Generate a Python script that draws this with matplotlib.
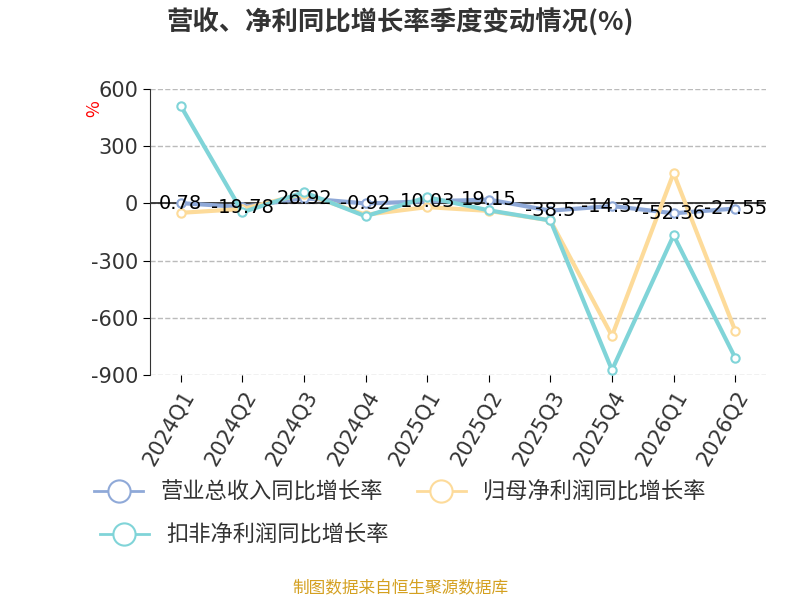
import matplotlib.pyplot as plt
from matplotlib.lines import Line2D

plt.rcParams['font.family'] = ['Noto Sans CJK SC', 'DejaVu Sans']

quarters = ['2024Q1', '2024Q2', '2024Q3', '2024Q4', '2025Q1', '2025Q2', '2025Q3', '2025Q4', '2026Q1', '2026Q2']
revenue = [0.78, -19.78, 26.92, -0.92, 10.03, 19.15, -38.5, -14.37, -52.36, -27.55]
net_profit = [-50, -30, 50, -60, -20, -40, -90, -695, 158, -668]
deducted = [510, -47, 58, -68, 32, -37, -90, -874, -168, -810]

c_rev = '#8fa9d8'
c_net = '#fddb9a'
c_ded = '#80d4d8'

fig = plt.figure(figsize=(8, 6), dpi=100)
ax = fig.add_axes([0.1875, 0.375, 0.77, 0.477])
x = list(range(len(quarters)))

for ys, c in [(revenue, c_rev), (net_profit, c_net), (deducted, c_ded)]:
    ax.plot(x, ys, color=c, lw=3, marker='o', ms=6, mfc='white', mec=c, mew=1.5, zorder=3)

for xi, v in zip(x, revenue):
    ax.text(xi, v, f'{v:g}', ha='center', va='center', fontsize=14, color='black',
            family='DejaVu Sans', zorder=5)

ax.set_xlim(-0.5, 9.5)
ax.set_ylim(-900, 600)
ax.set_yticks([600, 300, 0, -300, -600, -900])
ax.set_yticklabels(['600', '300', '0', '-300', '-600', '-900'], family='DejaVu Sans', fontsize=15, color='#333333')
ax.tick_params(axis='y', length=5)
ax.set_xticks(x)
ax.set_xticklabels(quarters, rotation=60, ha='right', rotation_mode='anchor', fontsize=15,
                   color='#333333', family='DejaVu Sans')
ax.tick_params(axis='x', length=5)
ax.grid(axis='y', ls='--', color='#bbbbbb', lw=1)
for s in ['top', 'right', 'bottom']:
    ax.spines[s].set_visible(False)
ax.spines['left'].set_color('#333333')
ax.axhline(0, color='#222222', lw=1.2, zorder=2)
ax.text(-0.09, 0.93, '%', transform=ax.transAxes, color='red', fontsize=13, rotation=90, ha='center', va='center')

fig.text(0.5, 0.962, '营收、净利同比增长率季度变动情况(%)', ha='center', va='center', fontsize=19, fontweight='bold', color='#333333')

def handle(c):
    return Line2D([], [], color=c, lw=2, marker='o', ms=16, mfc='white', mec=c, mew=1.5)

fig.legend([handle(c_rev), handle(c_net)], ['营业总收入同比增长率', '归母净利润同比增长率'],
           loc='center', bbox_to_anchor=(0.5, 0.18), ncol=2, frameon=False, fontsize=16,
           handlelength=2.2, columnspacing=1.5, labelcolor='#333333')
fig.legend([handle(c_ded)], ['扣非净利润同比增长率'],
           loc='center left', bbox_to_anchor=(0.1, 0.108), frameon=False, fontsize=16,
           handlelength=2.2, labelcolor='#333333')

fig.text(0.5, 0.018, '制图数据来自恒生聚源数据库', ha='center', va='center', fontsize=12, color='#d4a020')

fig.savefig('out.png')
